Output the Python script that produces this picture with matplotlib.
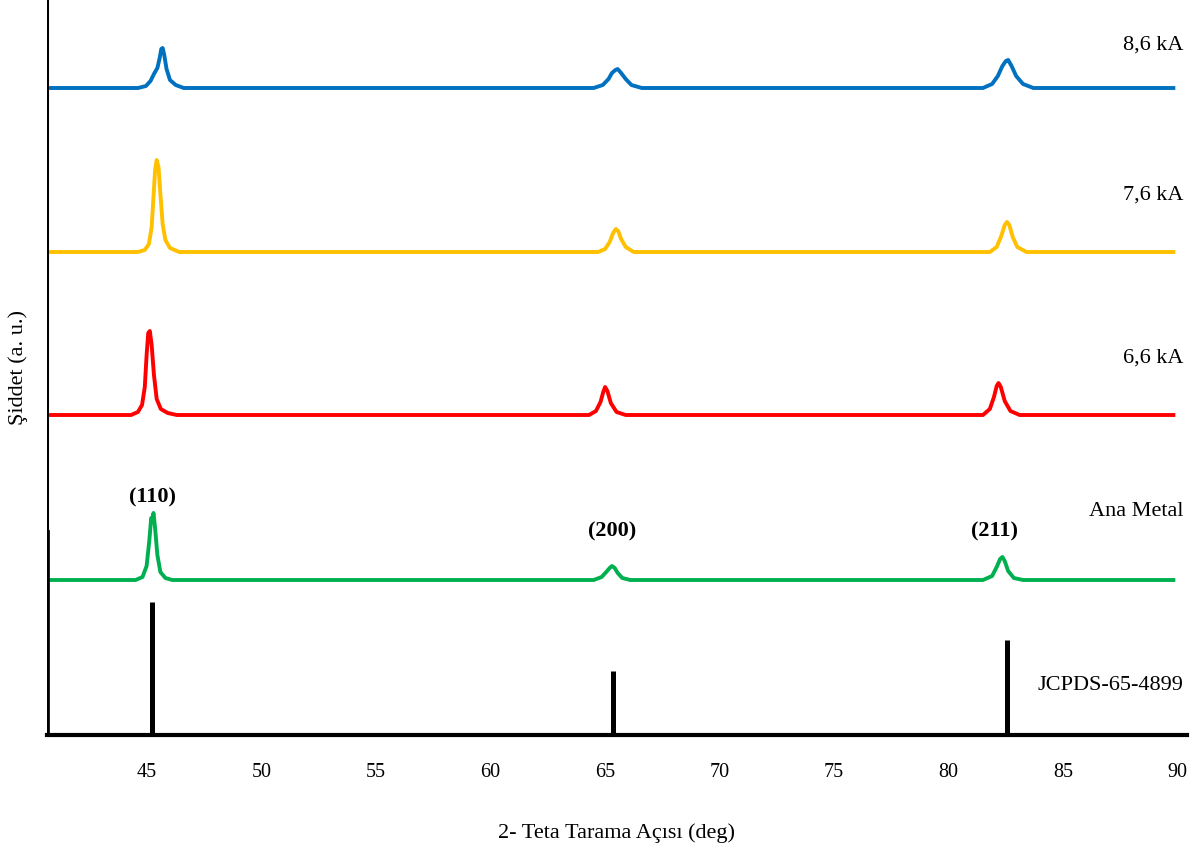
import matplotlib
matplotlib.use("Agg")
import matplotlib.pyplot as plt

plt.rcParams['font.family'] = ['Liberation Serif', 'DejaVu Serif']

# 2-theta (deg) and intensity (a.u.), above each baseline
tt_86 = [40.72, 44.6, 44.95, 45.15, 45.3, 45.45, 45.55, 45.62, 45.68, 45.75, 45.85, 46.0, 46.25, 46.6,
         64.5, 64.9, 65.15, 65.3, 65.45, 65.55, 65.7, 65.9, 66.15, 66.6,
         81.5, 81.9, 82.15, 82.35, 82.5, 82.6, 82.75, 82.95, 83.25, 83.7, 89.9]
int_86 = [0, 0, 2, 7, 14, 20, 30, 39, 40, 33, 19, 8, 3, 0,
          0, 3, 9, 15, 18, 19, 15, 9, 3, 0,
          0, 4, 12, 22, 27, 28, 22, 12, 4, 0, 0]

tt_76 = [40.72, 44.6, 44.9, 45.08, 45.2, 45.28, 45.35, 45.42, 45.5, 45.58, 45.68, 45.8, 46.0, 46.4,
         64.7, 65.0, 65.2, 65.35, 65.47, 65.57, 65.7, 65.9, 66.25,
         81.8, 82.1, 82.3, 82.45, 82.55, 82.65, 82.8, 83.0, 83.4, 89.9]
int_76 = [0, 0, 2, 8, 25, 55, 82, 92, 85, 58, 28, 12, 4, 0,
          0, 3, 10, 19, 23, 21, 13, 5, 0,
          0, 5, 16, 27, 30, 27, 15, 5, 0, 0]

tt_66 = [40.72, 44.3, 44.6, 44.78, 44.9, 44.98, 45.05, 45.12, 45.2, 45.3, 45.42, 45.6, 45.9, 46.3,
         64.3, 64.6, 64.8, 64.92, 65.0, 65.1, 65.25, 65.5, 65.9,
         81.5, 81.8, 81.98, 82.1, 82.18, 82.28, 82.45, 82.7, 83.1, 89.9]
int_66 = [0, 0, 3, 10, 28, 60, 82, 84, 70, 40, 16, 6, 2, 0,
          0, 4, 13, 23, 28, 24, 12, 3, 0,
          0, 6, 18, 29, 32, 28, 14, 4, 0, 0]

tt_ana = [40.72, 44.5, 44.8, 44.98, 45.1, 45.18, 45.23, 45.28, 45.35, 45.45, 45.58, 45.8, 46.1,
          64.5, 64.85, 65.05, 65.2, 65.3, 65.42, 65.55, 65.75, 66.1,
          81.5, 81.9, 82.1, 82.25, 82.35, 82.45, 82.6, 82.85, 83.25, 89.9]
int_ana = [0, 0, 3, 14, 40, 62, 60, 67, 52, 25, 8, 2, 0,
           0, 3, 8, 12, 14, 12, 7, 2, 0,
           0, 4, 13, 21, 23, 19, 9, 2, 0, 0]

# JCPDS-65-4899 reference lines
ref_tt = [45.22, 65.35, 82.55]
ref_int = [133, 64, 95]

series_names = ['8,6 kA', '7,6 kA', '6,6 kA', 'Ana Metal']
hkl_labels = ['(110)', '(200)', '(211)']

# stacking offsets and label spots
offsets = [647, 483, 320, 155]
colors = ['#0070C0', '#FFC000', '#FF0000', '#00B050']
name_y = [690, 540, 377, 224]
hkl_pos = [(45.22, 238), (65.3, 204), (82.0, 204)]

fig = plt.figure(figsize=(11.96, 8.48), dpi=100)
ax = fig.add_axes([47 / 1196, 113 / 848, 1140 / 1196, 735 / 848])

curves = [(tt_86, int_86), (tt_76, int_76), (tt_66, int_66), (tt_ana, int_ana)]
for (tt, inten), off, c in zip(curves, offsets, colors):
    ax.plot(tt, [v + off for v in inten], color=c, lw=2.8,
            solid_joinstyle='round', solid_capstyle='butt')

ax.vlines(ref_tt, 0, ref_int, color='black', lw=3.6)

for name, y in zip(series_names, name_y):
    ax.text(90.24, y, name, ha='right', va='center', fontsize=16)
ax.text(90.24, 50, 'JCPDS-65-4899', ha='right', va='center', fontsize=16)

for lab, (x, y) in zip(hkl_labels, hkl_pos):
    ax.text(x, y, lab, ha='center', va='center', fontsize=16, fontweight='bold')

ax.set_xlim(40.63, 90.41)
ax.set_ylim(0, 735)
ax.set_xticks([45, 50, 55, 60, 65, 70, 75, 80, 85, 90])
ax.set_yticks([])
ax.tick_params(axis='x', length=0, pad=20, labelsize=14.5)

for s in ['top', 'right', 'left']:
    ax.spines[s].set_visible(False)
ax.spines['bottom'].set_linewidth(3)
# left axis: thin in the upper part, thicker for the lower panel
ax.axvline(40.63, ymin=203 / 735, ymax=1, color='black', lw=2.2)
ax.axvline(40.63, ymin=0, ymax=203 / 735, color='black', lw=3.4)

ax.set_xlabel('2- Teta Tarama Açısı (deg)', fontsize=16, labelpad=30)
ax.set_ylabel('Şiddet (a. u.)', fontsize=16, labelpad=14)

fig.savefig('out.png', dpi=100)
